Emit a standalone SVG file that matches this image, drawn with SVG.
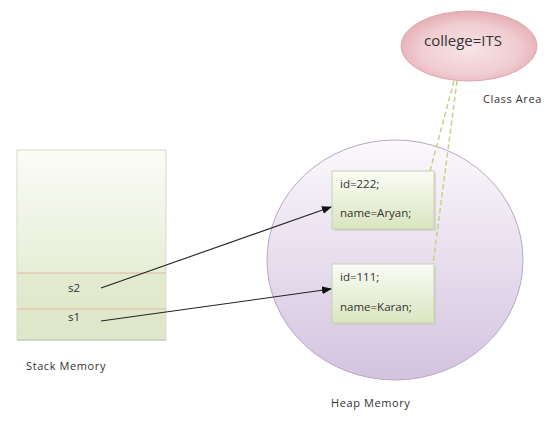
<svg xmlns="http://www.w3.org/2000/svg" width="560" height="429" viewBox="0 0 560 429">
<defs>
<linearGradient id="gStack" x1="0" y1="0" x2="0" y2="1"><stop offset="0" stop-color="#fbfcf7"/><stop offset="1" stop-color="#dce6c6"/></linearGradient>
<linearGradient id="gHeap" x1="0" y1="0" x2="0" y2="1"><stop offset="0" stop-color="#fbf9fc"/><stop offset="1" stop-color="#d3c3df"/></linearGradient>
<linearGradient id="gBox" x1="0" y1="0" x2="0" y2="1"><stop offset="0" stop-color="#fbfcf6"/><stop offset="1" stop-color="#d9e5c0"/></linearGradient>
<radialGradient id="gEll" cx="0.5" cy="0.55" r="0.6"><stop offset="0" stop-color="#f7e4e6"/><stop offset="0.6" stop-color="#f0cdd1"/><stop offset="1" stop-color="#e3a4ad"/></radialGradient>
<marker id="arr" markerWidth="10" markerHeight="8" refX="9" refY="4" orient="auto" markerUnits="userSpaceOnUse"><path d="M0,0 L10,4 L0,8 z" fill="#111"/></marker>
</defs>
<style>
text{font-family:"Open Sans","DejaVu Sans",sans-serif;fill:#333}
.lbl{font-size:11px;letter-spacing:0.6px}
.box{font-size:11.5px}
.b{fill:url(#gBox);stroke:#c7cfb8;stroke-width:1}
.sh{fill:#c8c8c0;opacity:0.6}
.dash{stroke:#c9cf86;stroke-width:1.5;stroke-dasharray:5,3;fill:none}
.arrow{stroke:#222;stroke-width:1.1;fill:none;marker-end:url(#arr)}
</style>
<rect width="560" height="429" fill="#fff"/>
<g id="stack">
<rect x="17" y="150" width="149" height="190" fill="url(#gStack)" stroke="#d8d8d0" stroke-width="1"/>
<rect x="17" y="273" width="149" height="67" fill="#dfe8cc" opacity="0.6"/>
<line x1="17" y1="273" x2="166" y2="273" stroke="#e0b8a0" stroke-width="1"/>
<line x1="17" y1="309" x2="166" y2="309" stroke="#e0b8a0" stroke-width="1"/>
<line x1="17" y1="340" x2="166" y2="340" stroke="#c8ccc0" stroke-width="1.5"/>
<text class="box" x="68" y="292">s2</text>
<text class="box" x="68" y="321">s1</text>
<text class="lbl" x="26" y="370">Stack Memory</text>
</g>
<g id="heap">
<ellipse cx="395" cy="260" rx="128" ry="120" fill="url(#gHeap)" stroke="#b8a8c4" stroke-width="1"/>
<text class="lbl" x="331" y="407">Heap Memory</text>
</g>
<g id="classArea">
<ellipse cx="469" cy="46" rx="68" ry="35" fill="url(#gEll)" stroke="#dba9b0" stroke-width="1"/>
<text x="463" y="46" font-size="15" text-anchor="middle">college=ITS</text>
<text class="lbl" x="483" y="103">Class Area</text>
</g>
<g id="obj2">
<rect class="sh" x="334" y="173" width="102" height="58"/>
<rect class="b" x="332" y="171" width="102" height="58"/>
<text class="box" x="340" y="188">id=222;</text>
<text class="box" x="340" y="217">name=Aryan;</text>
</g>
<g id="obj1">
<rect class="sh" x="334" y="266" width="102" height="59"/>
<rect class="b" x="332" y="264" width="102" height="59"/>
<text class="box" x="340" y="281">id=111;</text>
<text class="box" x="340" y="311">name=Karan;</text>
</g>
<g id="connectors">
<path class="dash" d="M454,81 L430,171"/>
<path class="dash" d="M457,81 L433,264"/>
<path class="arrow" d="M101,288 L331,207"/>
<path class="arrow" d="M101,321 L331,289"/>
</g>
</svg>
